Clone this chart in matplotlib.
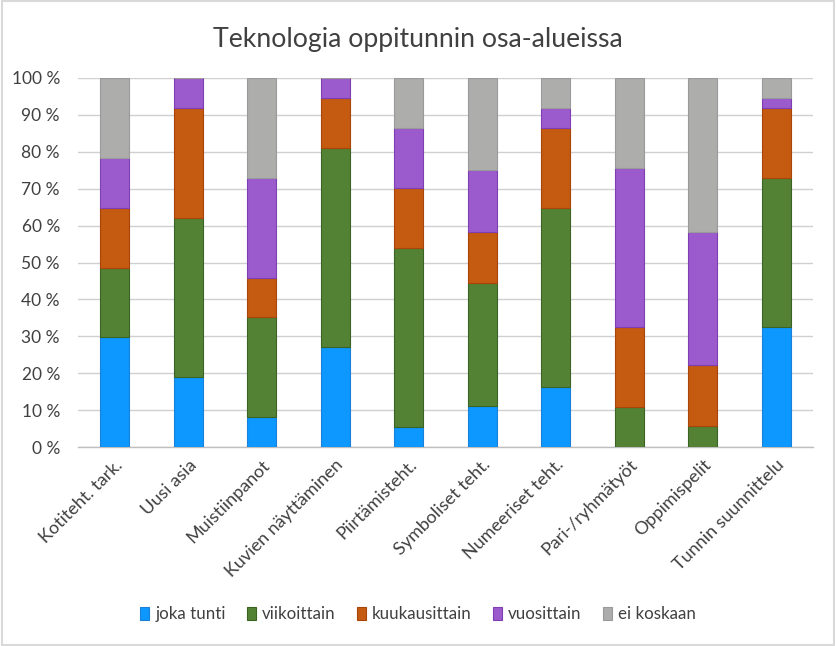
import numpy as np
import matplotlib.pyplot as plt
from matplotlib.patches import Rectangle

plt.rcParams['font.family'] = ['Lato', 'DejaVu Sans']

categories = ['Kotiteht. tark.', 'Uusi asia', 'Muistiinpanot', 'Kuvien näyttäminen',
              'Piirtämisteht.', 'Symboliset teht.', 'Numeeriset teht.', 'Pari-/ryhmätyöt',
              'Oppimispelit', 'Tunnin suunnittelu']
series_names = ['joka tunti', 'viikoittain', 'kuukausittain', 'vuosittain', 'ei koskaan']

joka_tunti = [29.7, 18.9, 8.1, 27.0, 5.4, 11.1, 16.2, 0.0, 0.0, 32.4]
viikoittain = [18.9, 43.2, 27.0, 54.1, 48.6, 33.3, 48.6, 10.8, 5.6, 40.5]
kuukausittain = [16.2, 29.7, 10.8, 13.5, 16.2, 13.9, 21.6, 21.6, 16.7, 18.9]
vuosittain = [13.5, 8.1, 27.0, 5.4, 16.2, 16.7, 5.4, 43.2, 36.1, 2.7]
ei_koskaan = [21.6, 0.0, 27.0, 0.0, 13.5, 25.0, 8.1, 24.3, 41.7, 5.4]

colors = ['#0C98FF', '#548235', '#C55A11', '#9B5BCD', '#ADADAC']
edges = ['#1A80D8', '#3B6324', '#A84508', '#7E3FB5', '#9A9A9A']

fig = plt.figure(figsize=(8.36, 6.46), dpi=100)
ax = fig.add_axes([78/836, 1-447/646, 735/836, 369/646])

x = np.arange(len(categories))
bottom = np.zeros(len(categories))
data = [joka_tunti, viikoittain, kuukausittain, vuosittain, ei_koskaan]
for vals, name, c, e in zip(data, series_names, colors, edges):
    ax.bar(x, vals, bottom=bottom, width=0.39, color=c, edgecolor=e, linewidth=0.8,
           label=name, zorder=3)
    bottom += np.array(vals)

ax.set_xlim(-0.5, len(categories) - 0.5)
ax.set_ylim(0, 100)
ax.set_yticks(range(0, 101, 10))
ax.set_yticklabels([f'{v} %' for v in range(0, 101, 10)], fontsize=12.5, color='#404040')
ax.set_xticks(x)
ax.set_xticklabels(categories, rotation=45, ha='right', rotation_mode='anchor',
                   fontsize=13, color='#404040')
ax.tick_params(axis='y', length=0, pad=13)
ax.tick_params(axis='x', length=0, pad=7)
ax.grid(axis='y', color='#D0D0D0', linewidth=1, zorder=0)
for s in ['top', 'right', 'left']:
    ax.spines[s].set_visible(False)
ax.spines['bottom'].set_color('#BFBFBF')
ax.spines['bottom'].set_linewidth(1)

fig.text(0.5, 1-40/646, 'Teknologia oppitunnin osa-alueissa', ha='center', va='center',
         fontsize=19.2, color='#404040')

fig.legend(loc='center', bbox_to_anchor=(0.5, 1-614/646), ncol=5, frameon=False,
           fontsize=12.2, handlelength=0.55, handleheight=0.8, handletextpad=0.35,
           columnspacing=1.25, labelcolor='#404040')

fig.patches.append(Rectangle((0.002, 0.002), 0.996, 0.996, transform=fig.transFigure,
                             fill=False, edgecolor='#D9D9D9', linewidth=1.5))

fig.savefig('out.png', dpi=100)
